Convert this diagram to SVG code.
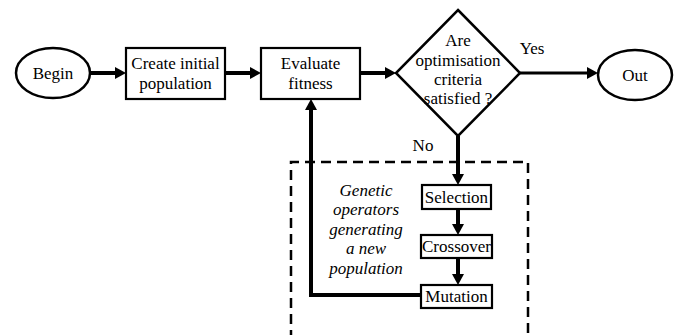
<svg xmlns="http://www.w3.org/2000/svg" width="679" height="335" viewBox="0 0 679 335" font-family="Liberation Serif, Times New Roman, Times, serif">
<style>
text{font-size:17px;fill:#000;text-anchor:middle}
.it{font-style:italic}
.box{fill:#fff;stroke:#000;stroke-width:2.2}
.node{fill:#fff;stroke:#000;stroke-width:2.5}
.conn{fill:none;stroke:#000;stroke-width:4}
.thin{stroke-width:3}
.dash{fill:none;stroke:#000;stroke-width:2.5;stroke-dasharray:10 6}
</style>
<defs>
<marker id="ah" viewBox="0 0 11 12" refX="5" refY="6" markerWidth="11" markerHeight="12" markerUnits="userSpaceOnUse" orient="auto">
<path d="M0,0 L11,6 L0,12 z" fill="#000"/>
</marker>
</defs>
<rect width="679" height="335" fill="#fff"/>
<g id="dashed-region">
<path class="dash" d="M291,340 V162 H528 V340"/>
</g>
<g id="connectors">
<line class="conn" x1="90" y1="73" x2="120" y2="73" marker-end="url(#ah)"/>
<line class="conn" x1="225" y1="73" x2="255" y2="73" marker-end="url(#ah)"/>
<line class="conn" x1="360" y1="73" x2="390" y2="73" marker-end="url(#ah)"/>
<line class="conn thin" x1="520" y1="73" x2="592" y2="73" marker-end="url(#ah)"/>
<line class="conn" x1="458" y1="136" x2="458" y2="179" marker-end="url(#ah)"/>
<line class="conn" x1="458" y1="209" x2="458" y2="229" marker-end="url(#ah)"/>
<line class="conn" x1="458" y1="258" x2="458" y2="279" marker-end="url(#ah)"/>
<polyline class="conn" points="421,295 311,295 311,105" marker-end="url(#ah)"/>
<text x="532" y="54" font-family="Liberation Serif, serif">Yes</text>
<text x="423" y="151" font-family="Liberation Serif, serif">No</text>
</g>
<g id="begin">
<ellipse class="node" cx="53" cy="73" rx="37" ry="25"/>
<text x="53" y="79" font-family="Liberation Serif, serif">Begin</text>
</g>
<g id="create" font-family="Liberation Serif, serif">
<rect class="box" x="126" y="48" width="99" height="51"/>
<text x="175.5" y="69">Create initial</text>
<text x="175.5" y="89">population</text>
</g>
<g id="evaluate" font-family="Liberation Serif, serif">
<rect class="box" x="261" y="48" width="99" height="51"/>
<text x="310.5" y="69">Evaluate</text>
<text x="310.5" y="89">fitness</text>
</g>
<g id="decision" font-family="Liberation Serif, serif">
<polygon class="node" points="458,10 520,73 458,136 396,73"/>
<text x="458" y="46">Are</text>
<text x="458" y="66">optimisation</text>
<text x="458" y="85">criteria</text>
<text x="458" y="104">satisfied ?</text>
</g>
<g id="out" font-family="Liberation Serif, serif">
<ellipse class="node" cx="635" cy="75" rx="37" ry="25"/>
<text x="635" y="81">Out</text>
</g>
<g id="selection" font-family="Liberation Serif, serif">
<rect class="box" x="422" y="185" width="69" height="24"/>
<text x="456.5" y="203">Selection</text>
</g>
<g id="crossover" font-family="Liberation Serif, serif">
<rect class="box" x="421" y="235" width="71" height="23"/>
<text x="456.5" y="252">Crossover</text>
</g>
<g id="mutation" font-family="Liberation Serif, serif">
<rect class="box" x="421" y="285" width="71" height="23"/>
<text x="456.5" y="302">Mutation</text>
</g>
<g id="genetic-label" font-family="Liberation Serif, serif">
<text class="it" x="366" y="196">Genetic</text>
<text class="it" x="366" y="215">operators</text>
<text class="it" x="366" y="235">generating</text>
<text class="it" x="366" y="254">a new</text>
<text class="it" x="366" y="274">population</text>
</g>
</svg>
